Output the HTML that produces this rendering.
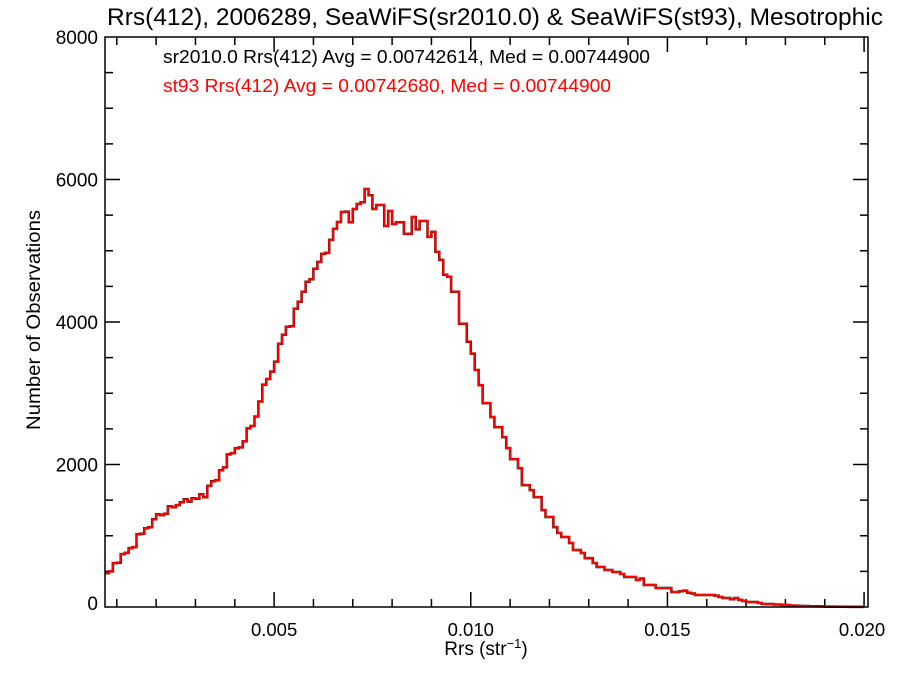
<!DOCTYPE html>
<html><head><meta charset="utf-8"><style>
body{margin:0;background:#fff;}
svg{display:block;font-family:"Liberation Sans",sans-serif;}
</style></head><body>
<svg id="chart" width="900" height="675" viewBox="0 0 900 675">
<rect x="0" y="0" width="900" height="675" fill="#fff"/>
<text x="495" y="25" text-anchor="middle" font-size="24" textLength="776" lengthAdjust="spacingAndGlyphs" fill="#000">Rrs(412), 2006289, SeaWiFS(sr2010.0) &amp; SeaWiFS(st93), Mesotrophic</text>
<text x="163" y="63" font-size="18.5" textLength="487" lengthAdjust="spacingAndGlyphs" fill="#000">sr2010.0 Rrs(412) Avg = 0.00742614, Med = 0.00744900</text>
<text x="163" y="92" font-size="18.5" textLength="448" lengthAdjust="spacingAndGlyphs" fill="#ff0000">st93 Rrs(412) Avg = 0.00742680, Med = 0.00744900</text>
<text x="486" y="655" text-anchor="middle" font-size="19" fill="#000">Rrs (str<tspan dy="-7" font-size="13">−1</tspan><tspan dy="7">)</tspan></text>
<text transform="translate(40,320) rotate(-90)" text-anchor="middle" font-size="19" textLength="220" lengthAdjust="spacingAndGlyphs" fill="#000">Number of Observations</text>
<g id="axes"></g>
<g id="series"></g>
<rect x="105" y="37" width="763" height="570" fill="none" stroke="#000" stroke-width="1.5"/>
</svg>
<script>
const binStart = 0.0007;
const binWidth = 0.0001;
const counts = [476,500,616,620,742,760,826,840,1022,1030,1106,1120,1232,1302,1290,1310,1414,1400,1430,1470,
1512,1480,1526,1520,1582,1540,1700,1764,1780,1918,1960,2142,2160,2226,2240,2324,2506,2540,2674,2884,
3122,3200,3304,3444,3696,3822,3934,3940,4186,4284,4424,4564,4600,4746,4844,4956,4970,5152,5306,5404,
5544,5550,5400,5586,5656,5680,5866,5780,5586,5642,5642,5348,5558,5376,5400,5400,5236,5236,5474,5300,
5418,5418,5194,5264,4984,4872,4662,4634,4424,4424,3976,3976,3724,3556,3326,3115,2862,2862,2666,2525,
2525,2385,2230,2076,2076,1950,1711,1711,1641,1543,1543,1360,1263,1263,1122,1038,982,982,898,800,
800,758,687,687,617,561,561,519,519,491,491,463,421,421,421,379,400,309,309,309,
267,267,267,267,210,210,220,230,200,190,168,168,168,168,168,160,140,126,126,110,
126,100,84,70,70,70,56,42,42,42,35,35,28,28,21,20,18,14,14,10,
10,8,8,6,5,5,4,3,3,2,2,1,1];
const xTickValues = [0.005, 0.010, 0.015, 0.020];
const xTickLabels = ["0.005", "0.010", "0.015", "0.020"];
const yTickValues = [0, 2000, 4000, 6000, 8000];
const yTickLabels = ["0", "2000", "4000", "6000", "8000"];

const X0=105, X1=868, Y0=607, Y1=37;
const xMin=0.0007, xMax=0.0201, yMin=0, yMax=8000;
const sx = v => X0 + (v - xMin) / (xMax - xMin) * (X1 - X0);
const sy = v => Y0 - (v - yMin) / (yMax - yMin) * (Y0 - Y1);
const NS='http://www.w3.org/2000/svg';
const axes=document.getElementById('axes');
const series=document.getElementById('series');
function line(g,x1,y1,x2,y2,name){
  const l=document.createElementNS(NS,'line');
  l.setAttribute('x1',x1);l.setAttribute('y1',y1);l.setAttribute('x2',x2);l.setAttribute('y2',y2);
  l.setAttribute('stroke','#000');l.setAttribute('stroke-width','1.5');
  
  
  g.appendChild(l);
}
for(let k=1;k<=20;k++){
  const v=k*0.001; if(v<xMin||v>xMax) continue;
  const major = k%5===0; const len = major?15:8;
  line(axes,sx(v),Y0,sx(v),Y0-len,'x-tick');
  line(axes,sx(v),Y1,sx(v),Y1+len,'x-tick-top');
}
xTickValues.forEach((v,i)=>{
  const t=document.createElementNS(NS,'text');
  t.setAttribute('x',sx(v)-(i===3?2:0));t.setAttribute('y',Y0+29);
  t.setAttribute('text-anchor','middle');t.setAttribute('font-size','18.5');
  
  
  t.textContent=xTickLabels[i];axes.appendChild(t);
});
for(let v=500;v<8000;v+=500){
  const major=v%2000===0; const len=major?15:8;
  line(axes,X0,sy(v),X0+len,sy(v),'y-tick');
  line(axes,X1,sy(v),X1-len,sy(v),'y-tick-right');
}
yTickValues.forEach((v,i)=>{
  const t=document.createElementNS(NS,'text');
  t.setAttribute('x',98);t.setAttribute('y',sy(v)+(i===0?3:7));
  t.setAttribute('text-anchor','end');t.setAttribute('font-size','19');
  
  
  t.textContent=yTickLabels[i];axes.appendChild(t);
});
function stepPath(){
  let d='';
  counts.forEach((c,i)=>{
    const a=sx(binStart+i*binWidth), b=sx(binStart+(i+1)*binWidth), y=sy(c);
    d += (i===0?'M':'L')+a.toFixed(1)+','+y.toFixed(1)+'L'+b.toFixed(1)+','+y.toFixed(1);
  });
  return d;
}
const d=stepPath();
const p1=document.createElementNS(NS,'path');
p1.setAttribute('d',d);p1.setAttribute('fill','none');p1.setAttribute('stroke','#000');p1.setAttribute('stroke-width','2.5');


series.appendChild(p1);
const p2=document.createElementNS(NS,'path');
p2.setAttribute('d',d);p2.setAttribute('fill','none');p2.setAttribute('stroke','#ff0000');p2.setAttribute('stroke-width','2');


series.appendChild(p2);
</script>
</body></html>
